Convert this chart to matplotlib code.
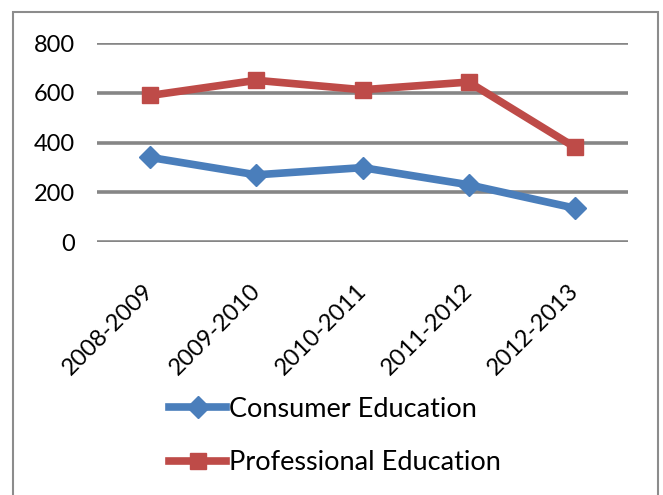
import matplotlib
matplotlib.use("Agg")
import matplotlib.pyplot as plt
import matplotlib.transforms as mtransforms
from matplotlib.patches import Rectangle

categories = ["2008-2009", "2009-2010", "2010-2011", "2011-2012", "2012-2013"]
consumer = [340, 270, 299, 230, 136]
professional = [589, 650, 612, 643, 381]
yticks = [0, 200, 400, 600, 800]

plt.rcParams['font.family'] = ['Lato', 'DejaVu Sans']

fig = plt.figure(figsize=(6.63, 4.95), dpi=100)
W, H = 663, 495
ax = fig.add_axes([97 / W, (H - 242) / H, (628 - 97) / W, (242 - 43) / H])

x = list(range(len(categories)))
ax.plot(x, consumer, color="#4A7EBB", lw=5.5, marker="D", markersize=11,
        label="Consumer Education", clip_on=False, zorder=3)
ax.plot(x, professional, color="#BE4B48", lw=5.5, marker="s", markersize=12,
        label="Professional Education", clip_on=False, zorder=3)

ax.set_xlim(-0.5, len(categories) - 0.5)
ax.set_ylim(0, 800)
ax.set_yticks(yticks)
ax.set_yticklabels([str(v) for v in yticks], fontsize=17)
ax.yaxis.grid(True, color="#868686", lw=2.6)
ax.set_axisbelow(True)
for s in ax.spines.values():
    s.set_visible(False)
ax.tick_params(axis="y", length=0, pad=16)
ax.tick_params(axis="x", length=0, pad=20)
ax.set_xticks(x)
ax.set_xticklabels(categories, rotation=45, ha="right", rotation_mode="anchor",
                   fontsize=17)
offset = mtransforms.ScaledTranslation(-7 / 100, -10 / 100, fig.dpi_scale_trans)
for lbl in ax.get_xticklabels():
    lbl.set_transform(lbl.get_transform() + offset)

# chart frame
fig.patches.append(Rectangle((13 / W, -0.05), (658 - 13) / W, (H - 12) / H + 0.05,
                             transform=fig.transFigure, fill=False,
                             edgecolor="#8C8C8C", lw=1.5))

fig.legend(loc="center", bbox_to_anchor=(335 / W, (H - 436) / H),
           frameon=False, fontsize=19.5, handlelength=2.1, handletextpad=0.1,
           labelspacing=1.05, markerscale=1.0)

fig.savefig("out.png", dpi=100, facecolor="white")
